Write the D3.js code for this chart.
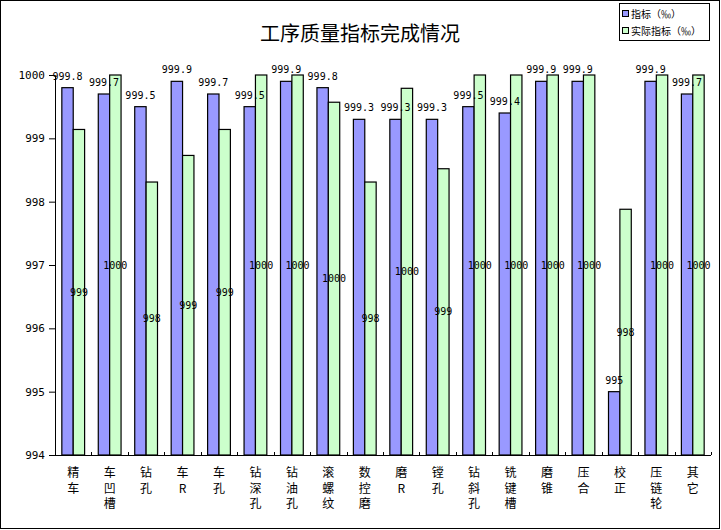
<!DOCTYPE html>
<html>
<head>
<meta charset="utf-8">
<script src="https://cdn.jsdelivr.net/npm/d3@7"></script>
<style>
  body { margin: 0; background: #fff; }
  svg { display: block; }
</style>
</head>
<body>
<svg id="chart"></svg>
<script>
// Data
const categories = ["精车", "车凹槽", "钻孔", "车R", "车孔", "钻深孔", "钻油孔", "滚螺纹", "数控磨",
                    "磨R", "镗孔", "钻斜孔", "铣键槽", "磨锥", "压合", "校正", "压链轮", "其它"];
const targetValues = [999.8, 999.7, 999.5, 999.9, 999.7, 999.5, 999.9, 999.8, 999.3,
                      999.3, 999.3, 999.5, 999.4, 999.9, 999.9, 995, 999.9, 999.7];
const actualValues = [999.14, 1000, 998.31, 998.73, 999.14, 1000, 1000, 999.57, 998.31,
                      999.79, 998.52, 1000, 1000, 1000, 1000, 997.88, 1000, 1000];
const seriesNames = ["指标（‰）", "实际指标（‰）"];
const yTicks = [994, 995, 996, 997, 998, 999, 1000];

const width = 721, height = 530;
const plot = { left: 55, right: 711, top: 75, bottom: 455 };
const colors = ["#9999ff", "#ccffcc"];
const numFont = "'DejaVu Sans Mono', 'Liberation Mono', monospace";
const cjkFont = "'Noto Sans CJK SC', sans-serif";

const svg = d3.select("#chart")
  .attr("width", width)
  .attr("height", height);

// outer border
svg.append("rect")
  .attr("x", 0.5).attr("y", 0.5)
  .attr("width", 719).attr("height", 528)
  .attr("fill", "#fff")
  .attr("stroke", "#000");

// title
svg.append("text")
  .attr("x", 360)
  .attr("y", 41)
  .attr("text-anchor", "middle")
  .style("font-family", cjkFont)
  .style("font-size", "20px")
  .text("工序质量指标完成情况");

// scales
const x0 = d3.scaleBand()
  .domain(categories)
  .range([plot.left, plot.right])
  .padding(0);

const x1 = d3.scaleBand()
  .domain(seriesNames)
  .range([0, x0.bandwidth()])
  .paddingInner(0)
  .paddingOuter(0.6);

const y = d3.scaleLinear()
  .domain([994, 1000])
  .range([plot.bottom, plot.top]);

const rows = categories.map((c, i) => ({ cat: c, vals: [targetValues[i], actualValues[i]] }));

// bars
const groups = svg.append("g").selectAll("g")
  .data(rows)
  .enter()
  .append("g")
  .attr("transform", d => `translate(${x0(d.cat)},0)`);

groups.selectAll("rect")
  .data(d => d.vals.map((v, k) => ({ v, k })))
  .enter()
  .append("rect")
  .attr("x", d => x1(seriesNames[d.k]))
  .attr("y", d => y(d.v))
  .attr("width", x1.bandwidth())
  .attr("height", d => y(994) - y(d.v))
  .attr("fill", d => colors[d.k])
  .attr("stroke", "#000")
  .attr("stroke-width", 1.2);

// labels for 指标: above the bar
groups.append("text")
  .attr("x", d => x1(seriesNames[0]) + x1.bandwidth() / 2)
  .attr("y", d => y(d.vals[0]) - 8)
  .attr("text-anchor", "middle")
  .style("font-family", numFont)
  .style("font-size", "10px")
  .text(d => String(d.vals[0]));

// labels for 实际指标: centred in the bar, rounded
groups.append("text")
  .attr("x", d => x1(seriesNames[1]) + x1.bandwidth() / 2)
  .attr("y", d => (y(d.vals[1]) + y(994)) / 2)
  .attr("dy", "0.35em")
  .attr("text-anchor", "middle")
  .style("font-family", numFont)
  .style("font-size", "10px")
  .text(d => d3.format(".0f")(d.vals[1]));

// y axis
const yAxis = svg.append("g")
  .attr("transform", `translate(${plot.left},0)`)
  .call(d3.axisLeft(y).tickValues(yTicks).tickSize(6).tickPadding(4).tickFormat(d3.format("d")));
yAxis.select(".domain").attr("stroke", "#000");
yAxis.selectAll("text")
  .style("font-family", numFont)
  .style("font-size", "11px")
  .attr("fill", "#000");

// x axis: inner ticks at category boundaries
const xAxis = svg.append("g")
  .attr("transform", `translate(0,${plot.bottom})`);
xAxis.append("line")
  .attr("x1", plot.left).attr("x2", plot.right)
  .attr("y1", 0.5).attr("y2", 0.5)
  .attr("stroke", "#000");
xAxis.selectAll(".tick")
  .data(categories)
  .enter()
  .append("line")
  .attr("x1", d => Math.round(x0(d) + x0.bandwidth()) + 0.5)
  .attr("x2", d => Math.round(x0(d) + x0.bandwidth()) + 0.5)
  .attr("y1", 0).attr("y2", -3)
  .attr("stroke", "#000");

// category labels, one character per line
const catLabels = xAxis.selectAll(".cat")
  .data(categories)
  .enter()
  .append("text")
  .attr("class", "cat")
  .attr("text-anchor", "middle")
  .style("font-family", cjkFont)
  .style("font-size", "12px");
catLabels.selectAll("tspan")
  .data(d => Array.from(d).map(ch => ({ ch, cat: d })))
  .enter()
  .append("tspan")
  .attr("x", d => x0(d.cat) + x0.bandwidth() / 2)
  .attr("y", (d, i) => 22 + i * 15.5)
  .text(d => d.ch);

// legend
const legend = svg.append("g").attr("transform", "translate(619,3)");
legend.append("rect")
  .attr("x", 0.5).attr("y", 0.5)
  .attr("width", 90).attr("height", 37)
  .attr("fill", "#fff")
  .attr("stroke", "#000");
const items = legend.selectAll(".item")
  .data(seriesNames)
  .enter()
  .append("g")
  .attr("transform", (d, i) => `translate(0,${11 + i * 17})`);
items.append("rect")
  .attr("x", 3.5).attr("y", -3.5)
  .attr("width", 6).attr("height", 6)
  .attr("fill", (d, i) => colors[i])
  .attr("stroke", "#000");
items.append("text")
  .attr("x", 12)
  .attr("y", 0)
  .attr("dy", "0.35em")
  .style("font-family", cjkFont)
  .style("font-size", "10px")
  .text(d => d);
</script>
</body>
</html>
